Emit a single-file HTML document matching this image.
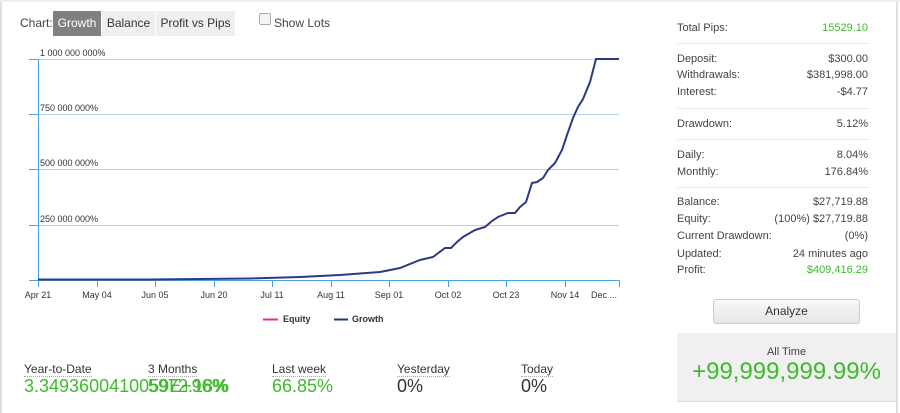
<!DOCTYPE html>
<html><head><meta charset="utf-8"><style>
body{margin:0;width:900px;height:413px;background:#fff;font-family:"Liberation Sans",sans-serif;position:relative;overflow:hidden;color:#333}
.a{position:absolute;white-space:nowrap}
.r{position:absolute;left:677px;width:191px;font-size:11px;color:#444}
.r span{float:right}
.sep{position:absolute;left:677px;width:191px;height:1px;background:#e6e6e6}
.g{color:#3dbb2c}
</style></head><body>
<div class="a" style="left:0;top:0;width:2px;height:413px;background:#ddd"></div>
<div class="a" style="left:896px;top:0;width:2px;height:413px;background:#ddd"></div>
<div class="a" style="left:0;top:0;width:900px;height:2px;background:#eee"></div>
<div class="a" style="left:20px;top:16px;font-size:12px;color:#444">Chart:</div>
<div class="a" style="left:53px;top:11px;width:48px;height:25px;background:#808080;color:#fff;font-size:12px;line-height:25px;text-align:center">Growth</div>
<div class="a" style="left:102px;top:11px;width:53px;height:25px;background:#efefef;font-size:12px;line-height:25px;text-align:center">Balance</div>
<div class="a" style="left:156px;top:11px;width:79px;height:25px;background:#efefef;font-size:12px;line-height:25px;text-align:center">Profit vs Pips</div>
<div class="a" style="left:259px;top:13px;width:10px;height:10px;border:1px solid #aaa;border-radius:2px;background:#f4f4f4"></div>
<div class="a" style="left:274px;top:16px;font-size:12px;color:#444">Show Lots</div>
<svg class="a" style="left:0;top:0" width="660" height="330">
<g stroke="#b5d2f2" stroke-width="1">
<line x1="38" y1="59.5" x2="619" y2="59.5"/><line x1="38" y1="114.5" x2="619" y2="114.5"/>
<line x1="38" y1="169.5" x2="619" y2="169.5"/><line x1="38" y1="225.5" x2="619" y2="225.5"/>
</g>
<g stroke="#4aa3e0" stroke-width="1">
<line x1="38.5" y1="59" x2="38.5" y2="280"/>
<line x1="29" y1="59.5" x2="38" y2="59.5"/><line x1="29" y1="114.5" x2="38" y2="114.5"/><line x1="29" y1="169.5" x2="38" y2="169.5"/><line x1="29" y1="225.5" x2="38" y2="225.5"/><line x1="29" y1="280.5" x2="38" y2="280.5"/>
<line x1="30" y1="280.5" x2="620" y2="280.5"/>
<path d="M38.5 280v7M97.5 280v7M155.5 280v7M214.5 280v7M272.5 280v7M331.5 280v7M389.5 280v7M448.5 280v7M506.5 280v7M565.5 280v7M619.5 280v7"/>
</g>
<g font-size="9" fill="#333" font-family="Liberation Sans,sans-serif">
<text x="40" y="56">1 000 000 000%</text><text x="40" y="111">750 000 000%</text><text x="40" y="166">500 000 000%</text><text x="40" y="222">250 000 000%</text>
</g>
<g font-size="9" fill="#333" text-anchor="middle" font-family="Liberation Sans,sans-serif">
<text x="38" y="298">Apr 21</text><text x="97" y="298">May 04</text><text x="155" y="298">Jun 05</text><text x="214" y="298">Jun 20</text><text x="272" y="298">Jul 11</text><text x="331" y="298">Aug 11</text><text x="389" y="298">Sep 01</text><text x="448" y="298">Oct 02</text><text x="506" y="298">Oct 23</text><text x="565" y="298">Nov 14</text><text x="604" y="298">Dec ...</text>
</g>
<polyline fill="none" stroke="#2e3a80" stroke-width="2" points="38,279.5 150,279.5 250,278.5 300,277 340,275 380,272 400,268 420,260 433,257 445,248 451,248 457,242 463,237 475,230 485,227 492,221 498,217 508,213 515,213 520,207 526,202 532,183 537,182 543,178 548,170 555,163 562,150 567,135 573,118 578,107 583,99 590,82 596,59 619,59"/>
<line x1="263" y1="319.5" x2="278" y2="319.5" stroke="#ff1fa5" stroke-width="2"/>
<text x="283" y="322" font-size="9" font-weight="bold" fill="#333" font-family="Liberation Sans,sans-serif">Equity</text>
<line x1="334" y1="319.5" x2="348" y2="319.5" stroke="#1d3a80" stroke-width="2"/>
<text x="352" y="322" font-size="9" font-weight="bold" fill="#333" font-family="Liberation Sans,sans-serif">Growth</text>
</svg>
<div class="a" style="left:24px;top:362px;font-size:12px;color:#333;border-bottom:1px dotted #aaa">Year-to-Date</div>
<div class="a" style="left:148px;top:362px;font-size:12px;color:#333;border-bottom:1px dotted #aaa">3 Months</div>
<div class="a" style="left:272px;top:362px;font-size:12px;color:#333;border-bottom:1px dotted #aaa">Last week</div>
<div class="a" style="left:397px;top:362px;font-size:12px;color:#333;border-bottom:1px dotted #aaa">Yesterday</div>
<div class="a" style="left:521px;top:362px;font-size:12px;color:#333;border-bottom:1px dotted #aaa">Today</div>
<div class="a g" style="left:24px;top:376px;font-size:18px">3.3493600410059E+96%</div>
<div class="a g" style="left:148px;top:376px;font-size:18px">5972.18%</div>
<div class="a g" style="left:272px;top:376px;font-size:18px">66.85%</div>
<div class="a" style="left:397px;top:376px;font-size:18px">0%</div>
<div class="a" style="left:521px;top:376px;font-size:18px">0%</div>

<div class="r" style="top:22px">Total Pips:<span class="g">15529.10</span></div>
<div class="sep" style="top:43px"></div>
<div class="r" style="top:53px">Deposit:<span>$300.00</span></div>
<div class="r" style="top:69px">Withdrawals:<span>$381,998.00</span></div>
<div class="r" style="top:86px">Interest:<span>-$4.77</span></div>
<div class="sep" style="top:108px"></div>
<div class="r" style="top:118px">Drawdown:<span>5.12%</span></div>
<div class="sep" style="top:139px"></div>
<div class="r" style="top:149px">Daily:<span>8.04%</span></div>
<div class="r" style="top:166px">Monthly:<span>176.84%</span></div>
<div class="sep" style="top:187px"></div>
<div class="r" style="top:196px">Balance:<span>$27,719.88</span></div>
<div class="r" style="top:213px">Equity:<span>(100%) $27,719.88</span></div>
<div class="r" style="top:230px">Current Drawdown:<span>(0%)</span></div>
<div class="r" style="top:248px">Updated:<span>24 minutes ago</span></div>
<div class="r" style="top:264px">Profit:<span class="g">$409,416.29</span></div>
<div class="a" style="left:713px;top:299px;width:145px;height:23px;border:1px solid #ccc;border-radius:3px;background:linear-gradient(#f8f8f8,#e6e6e6);font-size:12px;line-height:23px;text-align:center;color:#333">Analyze</div>
<div class="a" style="left:677px;top:333px;width:219px;height:68px;background:#f0f0f0;border-bottom:1px solid #ddd"></div>
<div class="a" style="left:677px;top:346px;width:219px;text-align:center;font-size:11px;color:#444">All Time</div>
<div class="a g" style="left:677px;top:358px;width:219px;text-align:center;font-size:24px">+99,999,999.99%</div>
</body></html>
